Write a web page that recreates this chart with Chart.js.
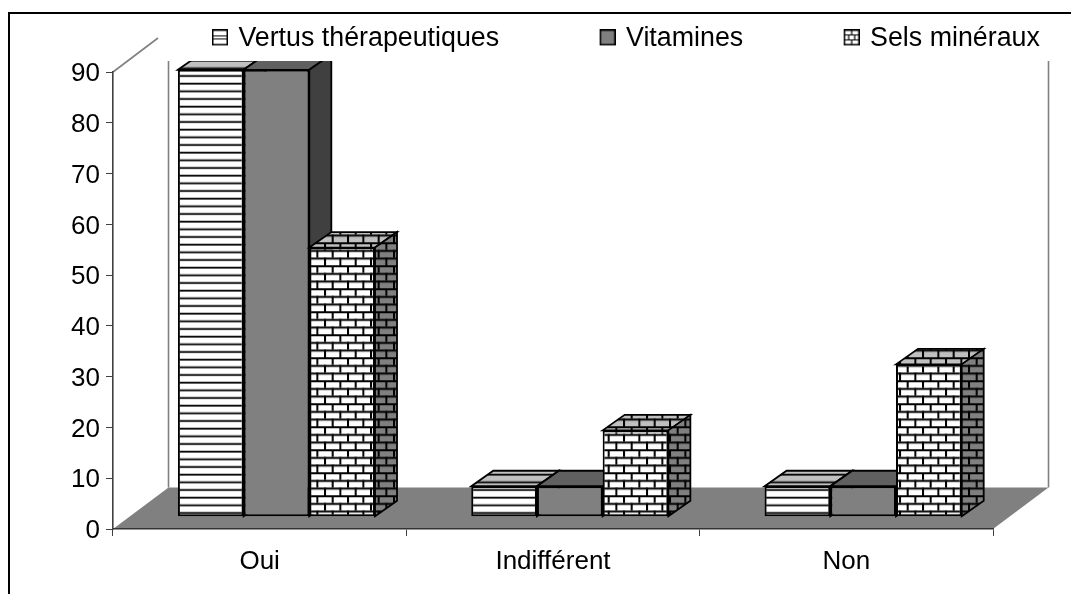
<!DOCTYPE html>
<html><head><meta charset="utf-8">
<style>html,body{margin:0;padding:0;background:#fff}#w{position:relative;width:1071px;height:594px;overflow:hidden}</style>
<script src="https://cdn.jsdelivr.net/npm/chart.js@4/dist/chart.umd.min.js"></script>
</head><body><div id="w"><canvas id="c" width="1071" height="594"></canvas></div>
<script>
const categories = ['Oui', 'Indifférent', 'Non'];
const seriesNames = ['Vertus thérapeutiques', 'Vitamines', 'Sels minéraux'];
const vertus = [88, 6, 6];
const vitamines = [88, 6, 6];
const sels = [53, 17, 30];

const FONT = '"Liberation Sans", Arial, sans-serif';
const DX = 22, DY = 15.5;          // bar depth
const SHIFT_X = 16.8, SHIFT_Y = -12.3; // bars stand inside the floor
const FLOOR_DX = 55.5, FLOOR_DY = 41.5;
const CLIP_TOP = 61;

function tile(w, h, ox, oy, paint) {
  const c = document.createElement('canvas'); c.width = w; c.height = h;
  const x = c.getContext('2d'); paint(x, w, h);
  const p = x.createPattern(c, 'repeat');
  p.setTransform(new DOMMatrix().translate(ox, oy));
  return p;
}
function stripes(bg) {
  return tile(4, 23, 0, 3, (x, w, h) => {
    x.fillStyle = bg; x.fillRect(0, 0, w, h);
    x.fillStyle = '#000';
    for (let i = 0; i < 3; i++) x.fillRect(0, i * h / 3, w, 1.8);
  });
}
function bricks(bg) {
  return tile(46, 46, 8.2, 1.5, (x, w, h) => {
    x.fillStyle = bg; x.fillRect(0, 0, w, h);
    x.fillStyle = '#000';
    const rh = h / 6, bw = w / 3;
    for (let r = 0; r < 6; r++) {
      x.fillRect(0, r * rh, w, 2);
      for (let b = 0; b < 3; b++) x.fillRect((b + (r % 2) * .5) * bw, r * rh, 2, rh);
    }
  });
}
const faces = [
  { front: stripes('#ffffff'), top: stripes('#c0c0c0'), side: stripes('#808080') },
  { front: '#808080', top: '#606060', side: '#404040' },
  { front: bricks('#ffffff'), top: bricks('#c0c0c0'), side: bricks('#808080') }
];
function swatch(kind) {
  // 3px of transparent margin left and 2px below keep the box where it belongs next to its text
  const c = document.createElement('canvas'); c.width = 19; c.height = 18;
  const x = c.getContext('2d');
  x.translate(3, 0);
  x.fillStyle = kind === 1 ? '#808080' : '#fff'; x.fillRect(0, 0, 16, 16);
  x.strokeStyle = '#000'; x.lineWidth = 1.5; x.strokeRect(.75, .75, 14.5, 14.5);
  x.lineWidth = 1.2;
  if (kind === 0) { x.beginPath(); x.moveTo(1, 6.5); x.lineTo(15, 6.5); x.moveTo(1, 9.5); x.lineTo(15, 9.5); x.stroke(); }
  if (kind === 2) {
    x.beginPath();
    x.moveTo(1, 5.5); x.lineTo(15, 5.5); x.moveTo(1, 10.5); x.lineTo(15, 10.5);
    x.moveTo(8, 1); x.lineTo(8, 5.5); x.moveTo(5, 5.5); x.lineTo(5, 10.5); x.moveTo(11, 5.5); x.lineTo(11, 10.5); x.moveTo(8, 10.5); x.lineTo(8, 15);
    x.stroke();
  }
  return c;
}
const swatches = [swatch(0), swatch(1), swatch(2)];

const look = {
  id: 'look',
  beforeDraw(chart) {
    const { ctx, chartArea: a } = chart;
    ctx.save();
    ctx.fillStyle = '#fff'; ctx.fillRect(0, 0, chart.width, chart.height);
    // page frame
    ctx.strokeStyle = '#000'; ctx.lineWidth = 2;
    ctx.beginPath(); ctx.moveTo(9, 594); ctx.lineTo(9, 13); ctx.lineTo(1071, 13); ctx.stroke();
    // floor
    ctx.fillStyle = '#808080';
    ctx.beginPath();
    ctx.moveTo(a.left, a.bottom); ctx.lineTo(a.left + FLOOR_DX, a.bottom - FLOOR_DY);
    ctx.lineTo(a.right + FLOOR_DX, a.bottom - FLOOR_DY); ctx.lineTo(a.right, a.bottom);
    ctx.closePath(); ctx.fill();
    // walls
    ctx.strokeStyle = '#808080'; ctx.lineWidth = 1.6;
    ctx.beginPath();
    ctx.moveTo(a.left + FLOOR_DX, a.bottom - FLOOR_DY); ctx.lineTo(a.left + FLOOR_DX, CLIP_TOP);
    ctx.moveTo(a.right + FLOOR_DX, a.bottom - FLOOR_DY); ctx.lineTo(a.right + FLOOR_DX, CLIP_TOP);
    ctx.moveTo(a.left, a.top); ctx.lineTo(a.left + 45, a.top - 34);
    ctx.stroke();
    ctx.restore();
    // legend placement
    const l = chart.legend;
    l.left = 212 - 100.5; l.right = 1400; l.top = -75.5; l.bottom = 72;
    // value labels sit 2px lower than the canvas 'middle' baseline gives
    const sy = chart.scales.y;
    if (!sy._shifted) {
      sy._shifted = true;
      const orig = sy.drawLabels;
      sy.drawLabels = function (area) { ctx.save(); ctx.translate(0, 2); orig.call(this, area); ctx.restore(); };
    }
  },
  beforeDatasetsDraw(chart) {
    const ctx = chart.ctx;
    [0, 1, 2].forEach(i => {
      const meta = chart.getDatasetMeta(i), f = faces[i];
      ctx.save();
      ctx.beginPath(); ctx.rect(0, CLIP_TOP, chart.width, chart.height); ctx.clip();
      ctx.translate(SHIFT_X, SHIFT_Y);
      meta.controller.draw();
      ctx.lineWidth = 1.8; ctx.strokeStyle = '#000'; ctx.lineJoin = 'miter';
      meta.data.forEach(bar => {
        const p = bar.getProps(['x', 'y', 'base', 'width'], true);
        const l = p.x - p.width / 2, r = p.x + p.width / 2;
        ctx.beginPath();
        ctx.moveTo(l, p.y); ctx.lineTo(l + DX, p.y - DY); ctx.lineTo(r + DX, p.y - DY); ctx.lineTo(r, p.y); ctx.closePath();
        ctx.fillStyle = f.top; ctx.fill(); ctx.stroke();
        ctx.beginPath();
        ctx.moveTo(r, p.y); ctx.lineTo(r + DX, p.y - DY); ctx.lineTo(r + DX, p.base - DY); ctx.lineTo(r, p.base); ctx.closePath();
        ctx.fillStyle = f.side; ctx.fill(); ctx.stroke();
      });
      ctx.restore();
    });
    return false;
  }
};

new Chart(document.getElementById('c'), {
  type: 'bar',
  plugins: [look],
  data: {
    labels: categories,
    datasets: [vertus, vitamines, sels].map((d, i) => ({
      label: seriesNames[i], data: d,
      backgroundColor: faces[i].front, borderColor: '#000', borderWidth: 2, borderSkipped: false,
      clip: false,
      categoryPercentage: 0.672, barPercentage: 1
    }))
  },
  options: {
    responsive: false, animation: false,
    layout: { padding: { left: 0, top: 0, right: 78, bottom: 0 } },
    plugins: {
      tooltip: { enabled: false },
      legend: {
        position: 'top', align: 'start', maxHeight: 72,
        labels: {
          usePointStyle: true, boxWidth: 13, boxHeight: 13, padding: 100.5,
          font: { family: FONT, size: 26.8 }, color: '#000',
          generateLabels: () => seriesNames.map((t, i) => ({
            text: t, pointStyle: swatches[i], datasetIndex: i, fontColor: '#000', hidden: false, lineWidth: 0
          }))
        }
      }
    },
    scales: {
      x: {
        grid: { drawOnChartArea: false, color: '#404040', tickLength: 7, lineWidth: 1 },
        border: { color: '#333333', width: 1.6 },
        ticks: { font: { family: FONT, size: 26 }, color: '#000', padding: 10, autoSkip: false, maxRotation: 0 },
        afterFit: s => { s.height = 65; }
      },
      y: {
        min: 0, max: 90,
        grid: { drawOnChartArea: false, color: '#404040', tickLength: 7, lineWidth: 1 },
        border: { color: '#404040', width: 1.6 },
        ticks: { stepSize: 10, font: { family: FONT, size: 26 }, color: '#000', padding: 6 },
        afterFit: s => { s.width = 113; }
      }
    }
  }
});
</script></body></html>
